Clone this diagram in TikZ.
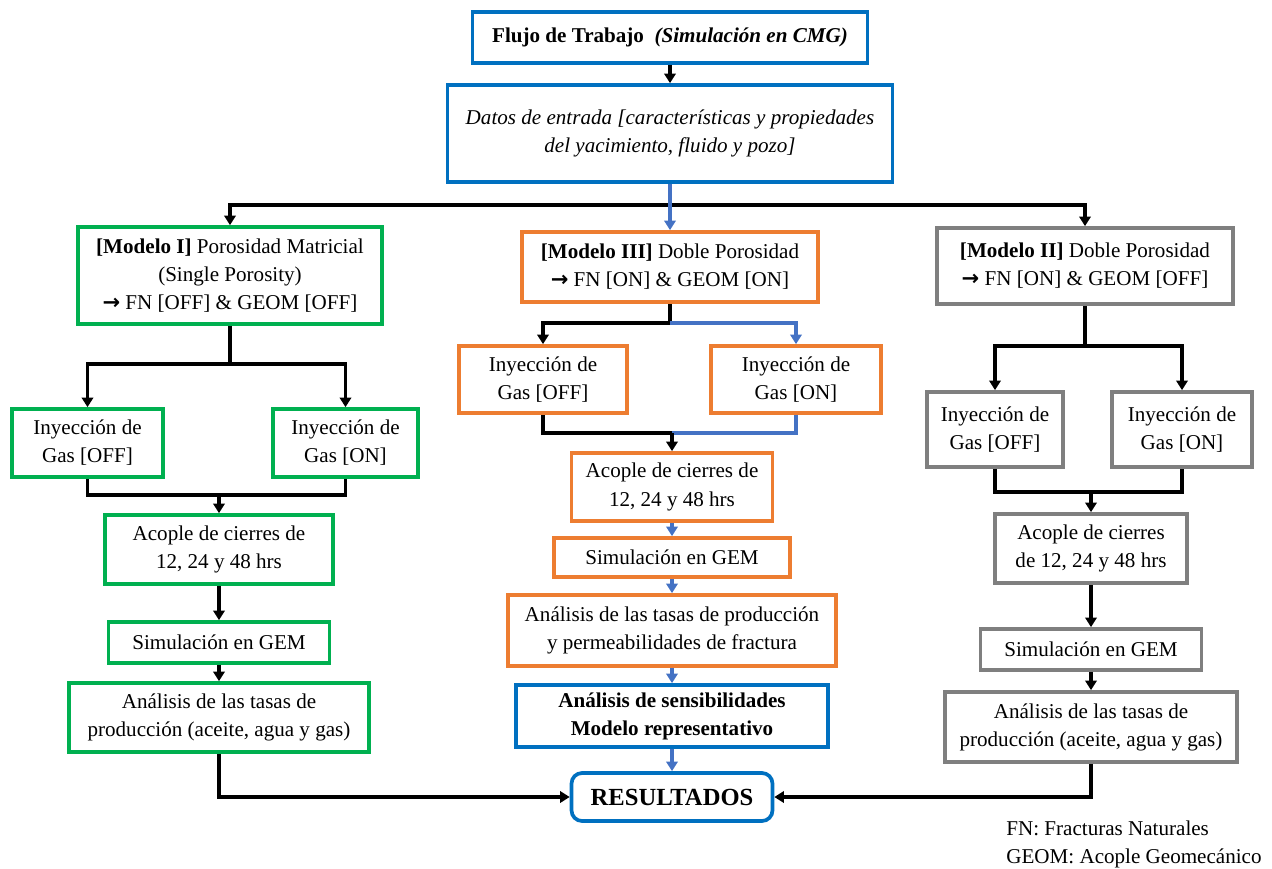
\documentclass[tikz,border=0pt]{standalone}
\usepackage{fontspec}
\setmainfont{Liberation Serif}
\newfontfamily\symfont{DejaVu Sans}
\usepackage{xcolor}
\usetikzlibrary{arrows.meta}
\definecolor{cmgblue}{HTML}{0070C0}
\definecolor{mgreen}{HTML}{00B050}
\definecolor{morange}{HTML}{ED7D31}
\definecolor{mgray}{HTML}{7F7F7F}
\definecolor{lblue}{HTML}{4472C4}
\newcommand{\flecha}{{\symfont\bfseries→}}
\begin{document}
\begin{tikzpicture}[x=0.02cm,y=-0.02cm,font=\fontsize{12}{16}\selectfont,
box/.style={draw,line width=2.1pt,fill=white,align=center,inner sep=0pt},
bluebox/.style={box,draw=cmgblue},greenbox/.style={box,draw=mgreen},
orangebox/.style={box,draw=morange},graybox/.style={box,draw=mgray},
ln/.style={line width=2.1pt},arr/.style={ln,-{Triangle[length=5.5pt,width=6.5pt]}},
bln/.style={line width=1.8pt,draw=lblue},barr/.style={arr,line width=1.8pt,draw=lblue}]
\useasboundingbox(0,0)rectangle(1272,869);
\node[bluebox,minimum width=7.9cm,minimum height=1.02cm](flujo)at(670,37.5){\textbf{Flujo de Trabajo}\ \ \textbf{\textit{(Simulación en CMG)}}};
\node[bluebox,minimum width=8.9cm,minimum height=1.94cm,font=\fontsize{12}{16}\selectfont\itshape](datos)at(670,133.5){Datos de entrada [características y propiedades\\del yacimiento, fluido y pozo]};
\node[greenbox,minimum width=6.08cm,minimum height=1.94cm](m1)at(230,275.5){\textbf{[Modelo I]} Porosidad Matricial\\(Single Porosity)\\\flecha{} FN [OFF] \& GEOM [OFF]};
\node[orangebox,minimum width=5.92cm,minimum height=1.4cm](m3)at(670,267){\textbf{[Modelo III]} Doble Porosidad\\\flecha{} FN [ON] \& GEOM [ON]};
\node[graybox,minimum width=5.92cm,minimum height=1.52cm](m2)at(1085,266){\textbf{[Modelo II]} Doble Porosidad\\\flecha{} FN [ON] \& GEOM [OFF]};
\node[greenbox,minimum width=3.02cm,minimum height=1.36cm](i1off)at(87.5,443){Inyección de\\Gas [OFF]};
\node[greenbox,minimum width=2.9cm,minimum height=1.36cm](i1on)at(345.5,443){Inyección de\\Gas [ON]};
\node[greenbox,minimum width=4.56cm,minimum height=1.38cm](a1)at(219,549.5){Acople de cierres de\\12, 24 y 48 hrs};
\node[greenbox,minimum width=4.42cm,minimum height=0.82cm](s1)at(219,642.5){Simulación en GEM};
\node[greenbox,minimum width=6cm,minimum height=1.38cm](r1)at(219,717.5){Análisis de las tasas de\\producción (aceite, agua y gas)};
\node[orangebox,minimum width=3.36cm,minimum height=1.34cm](i3off)at(543,379.5){Inyección de\\Gas [OFF]};
\node[orangebox,minimum width=3.4cm,minimum height=1.34cm](i3on)at(796,379.5){Inyección de\\Gas [ON]};
\node[orangebox,minimum width=4.02cm,minimum height=1.36cm](a3)at(672,487){Acople de cierres de\\12, 24 y 48 hrs};
\node[orangebox,minimum width=4.72cm,minimum height=0.78cm](s3)at(672,557.5){Simulación en GEM};
\node[orangebox,minimum width=6.56cm,minimum height=1.42cm](r3)at(672,630.5){Análisis de las tasas de producción\\y permeabilidades de fractura};
\node[bluebox,minimum width=6.24cm,minimum height=1.24cm,font=\fontsize{12}{16}\selectfont\bfseries](sens)at(672,716){Análisis de sensibilidades\\Modelo representativo};
\node[bluebox,rounded corners=6pt,minimum width=4.02cm,minimum height=0.96cm,font=\fontsize{14}{16}\selectfont\bfseries](res)at(672,797){RESULTADOS};
\node[graybox,minimum width=2.72cm,minimum height=1.5cm](i2off)at(995,429.5){Inyección de\\Gas [OFF]};
\node[graybox,minimum width=2.8cm,minimum height=1.5cm](i2on)at(1182,429.5){Inyección de\\Gas [ON]};
\node[graybox,minimum width=3.84cm,minimum height=1.38cm](a2)at(1091,548.5){Acople de cierres\\de 12, 24 y 48 hrs};
\node[graybox,minimum width=4.42cm,minimum height=0.82cm](s2)at(1091,649.5){Simulación en GEM};
\node[graybox,minimum width=5.84cm,minimum height=1.4cm](r2)at(1091,727){Análisis de las tasas de\\producción (aceite, agua y gas)};
\node[anchor=north west,align=left,inner sep=0pt,font=\fontsize{12}{15.4}\selectfont](nota)at(1006,821){FN: Fracturas Naturales\\GEOM: Acople Geomecánico};
\coordinate(top)at(670,205);
\coordinate(c1)at(230,364);\coordinate(d1)at(219,495);
\coordinate(c3)at(670,323);\coordinate(d3)at(672,433);
\coordinate(c2)at(1085,346);\coordinate(d2)at(1091,492);
\draw[arr](flujo)--(datos);
\draw[arr](top)-|(m1);\draw[arr](top)-|(m2);
\draw[barr](datos)--(m3);
\draw[ln](m1)--(c1);\draw[arr](c1)-|(i1off);\draw[arr](c1)-|(i1on);
\draw[ln](i1off)|-(d1);\draw[ln](i1on)|-(d1);\draw[arr](d1)--(a1);
\draw[arr](a1)--(s1);\draw[arr](s1)--(r1);\draw[arr](r1)|-(res);
\draw[ln](m3)--(c3);\draw[arr](c3)-|(i3off);\draw[barr](c3)-|(i3on);
\draw[bln](i3on)|-(d3);\draw[ln](i3off)|-(d3);\draw[arr](d3)--(a3);
\draw[barr](a3)--(s3);\draw[barr](s3)--(r3);\draw[barr](r3)--(sens);\draw[barr](sens)--(res);
\draw[ln](m2)--(c2);\draw[arr](c2)-|(i2off);\draw[arr](c2)-|(i2on);
\draw[ln](i2off)|-(d2);\draw[ln](i2on)|-(d2);\draw[arr](d2)--(a2);
\draw[arr](a2)--(s2);\draw[arr](s2)--(r2);\draw[arr](r2)|-(res);
\end{tikzpicture}
\end{document}
